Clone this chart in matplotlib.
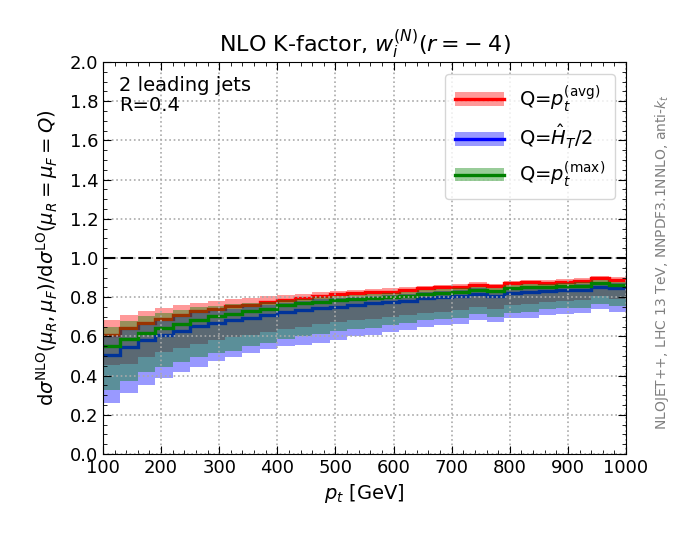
import numpy as np
import matplotlib
matplotlib.use("Agg")
import matplotlib.pyplot as plt
from matplotlib.patches import Patch
from matplotlib.lines import Line2D

pt_edges = [100, 130, 160, 190, 220, 250, 280, 310, 340, 370, 400, 430, 460, 490, 520,
            550, 580, 610, 640, 670, 700, 730, 760, 790, 820, 850, 880, 910, 940, 970, 1000]

red_c = [0.609, 0.643, 0.669, 0.689, 0.711, 0.728, 0.740, 0.754, 0.762, 0.774, 0.786, 0.794, 0.807, 0.815, 0.820,
         0.824, 0.828, 0.837, 0.845, 0.850, 0.854, 0.862, 0.856, 0.871, 0.876, 0.874, 0.879, 0.884, 0.896, 0.888]
red_hi = [0.686, 0.711, 0.732, 0.746, 0.758, 0.771, 0.780, 0.792, 0.797, 0.805, 0.810, 0.815, 0.825, 0.832, 0.837,
          0.840, 0.845, 0.850, 0.857, 0.862, 0.866, 0.876, 0.868, 0.883, 0.888, 0.888, 0.893, 0.896, 0.910, 0.901]
red_lo = [0.455, 0.458, 0.495, 0.520, 0.542, 0.561, 0.580, 0.597, 0.605, 0.625, 0.640, 0.650, 0.662, 0.675, 0.684,
          0.690, 0.700, 0.709, 0.721, 0.726, 0.735, 0.752, 0.740, 0.760, 0.764, 0.777, 0.782, 0.785, 0.806, 0.789]

blue_c = [0.505, 0.545, 0.580, 0.609, 0.629, 0.652, 0.669, 0.682, 0.694, 0.711, 0.723, 0.735, 0.743, 0.752, 0.760,
          0.768, 0.777, 0.782, 0.794, 0.800, 0.807, 0.815, 0.808, 0.820, 0.825, 0.830, 0.835, 0.838, 0.852, 0.845]
blue_hi = [0.600, 0.633, 0.659, 0.679, 0.700, 0.717, 0.729, 0.742, 0.750, 0.762, 0.772, 0.779, 0.790, 0.797, 0.801,
           0.805, 0.811, 0.818, 0.826, 0.832, 0.836, 0.845, 0.838, 0.852, 0.857, 0.858, 0.862, 0.866, 0.878, 0.870]
blue_lo = [0.258, 0.313, 0.354, 0.390, 0.416, 0.446, 0.472, 0.494, 0.515, 0.535, 0.549, 0.556, 0.565, 0.582, 0.600,
           0.607, 0.624, 0.633, 0.650, 0.658, 0.662, 0.684, 0.672, 0.692, 0.695, 0.709, 0.714, 0.718, 0.738, 0.726]

green_c = [0.549, 0.587, 0.617, 0.643, 0.665, 0.682, 0.703, 0.716, 0.728, 0.742, 0.758, 0.768, 0.777, 0.786, 0.791,
           0.795, 0.803, 0.806, 0.816, 0.823, 0.828, 0.837, 0.830, 0.845, 0.850, 0.852, 0.855, 0.858, 0.872, 0.864]
green_hi = [0.648, 0.677, 0.702, 0.718, 0.735, 0.748, 0.756, 0.766, 0.771, 0.778, 0.784, 0.789, 0.800, 0.807, 0.812,
            0.816, 0.820, 0.829, 0.837, 0.842, 0.846, 0.854, 0.848, 0.863, 0.868, 0.866, 0.871, 0.876, 0.888, 0.880]
green_lo = [0.327, 0.375, 0.418, 0.446, 0.468, 0.494, 0.515, 0.528, 0.549, 0.566, 0.585, 0.600, 0.611, 0.628, 0.638,
            0.645, 0.658, 0.667, 0.684, 0.687, 0.692, 0.713, 0.700, 0.718, 0.723, 0.738, 0.743, 0.743, 0.765, 0.755]

labels = [r"Q=$p_t^{(\mathrm{avg})}$", r"Q=$\hat{H}_T/2$", r"Q=$p_t^{(\mathrm{max})}$"]
colors = ["red", "blue", "green"]

fig = plt.figure(figsize=(6.75, 5.4), dpi=100)
ax = fig.add_axes([103/675, 1 - 454/540, 523/675, 392/540])

series = [(red_c, red_lo, red_hi), (blue_c, blue_lo, blue_hi), (green_c, green_lo, green_hi)]
handles = []
for (c, lo, hi), col, lab in zip(series, colors, labels):
    ax.stairs(hi, pt_edges, baseline=lo, fill=True, color=col, alpha=0.4, lw=0)
    ax.stairs(c, pt_edges, baseline=None, color=col, lw=2.4)
    handles.append((Patch(facecolor=col, alpha=0.4, edgecolor='none'), Line2D([], [], color=col, lw=2.4)))

ax.axhline(1.0, color='black', lw=1.5, dashes=(6, 2.5))

ax.set_xlim(100, 1000)
ax.set_ylim(0, 2.0)
ax.set_xticks(np.arange(100, 1001, 100))
ax.set_yticks(np.arange(0, 2.01, 0.2))
ax.set_yticklabels([f"{v:.1f}" for v in np.arange(0, 2.01, 0.2)])
ax.minorticks_on()
ax.tick_params(which='both', direction='in', top=True, right=True, labelsize=13)
ax.tick_params(which='major', length=6)
ax.tick_params(which='minor', length=3)
ax.grid(True, which='major', linestyle=':', color='#aaaaaa', lw=1.2)

ax.set_xlabel(r"$p_t$ [GeV]", fontsize=14)
ax.set_ylabel(r"d$\sigma^{\mathrm{NLO}}(\mu_R,\mu_F)$/d$\sigma^{\mathrm{LO}}(\mu_R=\mu_F=Q)$", fontsize=14,
              labelpad=7)
ax.set_title(r"NLO K-factor, $w_i^{(N)}(r=-\;4)$", fontsize=16, pad=8)

ax.text(0.03, 0.965, "2 leading jets\nR=0.4", transform=ax.transAxes, fontsize=14,
        va='top', ha='left', linespacing=1.1)

ax.legend(handles, labels, loc='upper right', fontsize=14, handlelength=2.5,
          labelspacing=0.45, borderpad=0.5, bbox_to_anchor=(0.998, 0.995))

fig.text(662/675, 1 - 262/540, r"NLOJET++, LHC 13 TeV, NNPDF3.1NNLO, anti-$k_t$", rotation=90,
         color='gray', fontsize=10, va='center', ha='center')

fig.savefig("out.png", dpi=100)
